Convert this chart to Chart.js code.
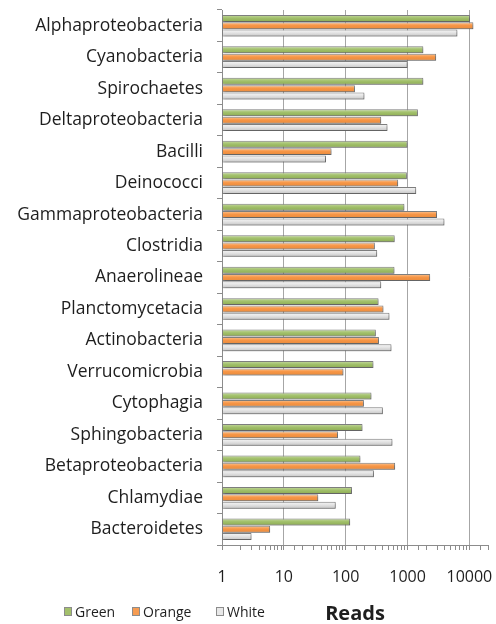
<!DOCTYPE html>
<html>
<head>
<meta charset="utf-8">
<script src="https://cdn.jsdelivr.net/npm/chart.js@4.4.1/dist/chart.umd.min.js"></script>
<style>
  html, body { margin: 0; padding: 0; background: #fff; }
  #wrap { width: 496px; height: 624px; }
</style>
</head>
<body>
<div id="wrap"><canvas id="chart" width="496" height="624"></canvas></div>
<script>
const categories = [
  'Alphaproteobacteria', 'Cyanobacteria', 'Spirochaetes', 'Deltaproteobacteria',
  'Bacilli', 'Deinococci', 'Gammaproteobacteria', 'Clostridia', 'Anaerolineae',
  'Planctomycetacia', 'Actinobacteria', 'Verrucomicrobia', 'Cytophagia',
  'Sphingobacteria', 'Betaproteobacteria', 'Chlamydiae', 'Bacteroidetes',
]
const greenReads = [10200, 1800, 1800, 1470, 1000, 975, 890, 620, 615, 340, 307, 281, 261, 187, 173, 126, 118]
const orangeReads = [11600, 2900, 141, 375, 59, 705, 3000, 296, 2320, 408, 344, 92, 197, 75, 630, 36, 6]
const whiteReads = [6400, 1000, 201, 474, 48, 1380, 3950, 323, 375, 510, 550, null, 399, 570, 286, 69, 3]
const seriesNames = ['Green', 'Orange', 'White']
const seriesColors = ['#a3c06b', '#f79c52', '#e8e8e8']
// top / middle / bottom shades for the bar gradients
const seriesShades = [
  ['#c6dba3', '#a2c06b', '#8cac52'],
  ['#fbc595', '#f79646', '#e88a3c'],
  ['#f7f7f7', '#e4e4e4', '#c4c4c4'],
]

const font = "'Open Sans', 'DejaVu Sans', sans-serif"

function isDecade (v) {
  const l = Math.log10(v)
  return Math.abs(l - Math.round(l)) < 1e-9
}

function barFill (i) {
  return function (context) {
    const el = context.element
    if (!el || el.y == null || !el.height) return seriesColors[i]
    const top = el.y - el.height / 2
    const g = context.chart.ctx.createLinearGradient(0, top, 0, top + el.height)
    g.addColorStop(0, seriesShades[i][0])
    g.addColorStop(0.45, seriesShades[i][1])
    g.addColorStop(1, seriesShades[i][2])
    return g
  }
}

// legend is drawn by hand so it can sit on the same row as the axis title
const sideLegend = {
  id: 'sideLegend',
  afterDraw (chart) {
    const c = chart.ctx
    const xs = [64, 132, 216]
    c.save()
    c.font = '14px ' + font
    c.textBaseline = 'middle'
    for (let i = 0; i < seriesNames.length; i++) {
      c.fillStyle = seriesColors[i]
      c.strokeStyle = '#8c8c8c'
      c.lineWidth = 1
      c.fillRect(xs[i] + 0.5, 607.5, 7, 8)
      c.strokeRect(xs[i] + 0.5, 607.5, 7, 8)
      c.fillStyle = '#1e1e1e'
      c.fillText(seriesNames[i], xs[i] + 11, 613)
    }
    c.restore()
  },
}

const barShadow = {
  id: 'barShadow',
  beforeDatasetsDraw (chart) {
    const c = chart.ctx
    c.save()
    c.shadowColor = 'rgba(0,0,0,0.25)'
    c.shadowOffsetX = 1.5
    c.shadowOffsetY = 1.5
    c.shadowBlur = 2
  },
  afterDatasetsDraw (chart) {
    chart.ctx.restore()
  },
}

const datasets = [greenReads, orangeReads, whiteReads].map(function (d, i) {
  return {
    label: seriesNames[i],
    data: d,
    backgroundColor: barFill(i),
    borderColor: '#7f7f7f',
    borderWidth: 1,
    borderSkipped: false,
    categoryPercentage: 0.7,
    barPercentage: 0.95,
  }
})

const config = {
  type: 'bar',
  data: {
    labels: categories,
    datasets: datasets,
  },
  options: {
    indexAxis: 'y',
    responsive: false,
    animation: false,
    layout: {
      padding: { top: 10, right: 8, bottom: 0, left: 0 },
    },
    plugins: {
      legend: { display: false },
      tooltip: { enabled: false },
    },
    scales: {
      x: {
        type: 'logarithmic',
        min: 1,
        max: 20000,
        afterFit: function (scale) {
          scale.height = 79
          scale.paddingLeft = 0
          scale.paddingRight = 0
        },
        border: { color: '#8c8c8c' },
        grid: {
          color: function (ctx) {
            return ctx.tick && isDecade(ctx.tick.value) ? '#a6a6a6' : 'rgba(0,0,0,0)'
          },
          tickColor: '#8c8c8c',
          tickLength: 5,
        },
        ticks: {
          autoSkip: false,
          maxRotation: 0,
          padding: 18,
          color: '#1e1e1e',
          font: { family: font, size: 16 },
          callback: function (value) {
            return isDecade(value) ? String(value) : ''
          },
        },
        title: {
          display: true,
          text: 'Reads',
          color: '#1e1e1e',
          font: { family: font, size: 20, weight: 'bold', lineHeight: 1 },
          padding: { top: 0, bottom: 0 },
        },
      },
      y: {
        afterFit: function (scale) {
          scale.width = 222
          scale.paddingTop = 0
          scale.paddingBottom = 0
        },
        border: { color: '#8c8c8c' },
        grid: {
          drawOnChartArea: false,
          offset: true,
          color: '#8c8c8c',
          tickLength: 5,
        },
        ticks: {
          padding: 14,
          color: '#1e1e1e',
          font: { family: font, size: 17.5 },
        },
      },
    },
  },
  plugins: [barShadow, sideLegend],
}

const ctx = document.getElementById('chart').getContext('2d')
const myChart = new Chart(ctx, config)
// second pass so the gradients can use the bar positions
myChart.update()
</script>
</body>
</html>
